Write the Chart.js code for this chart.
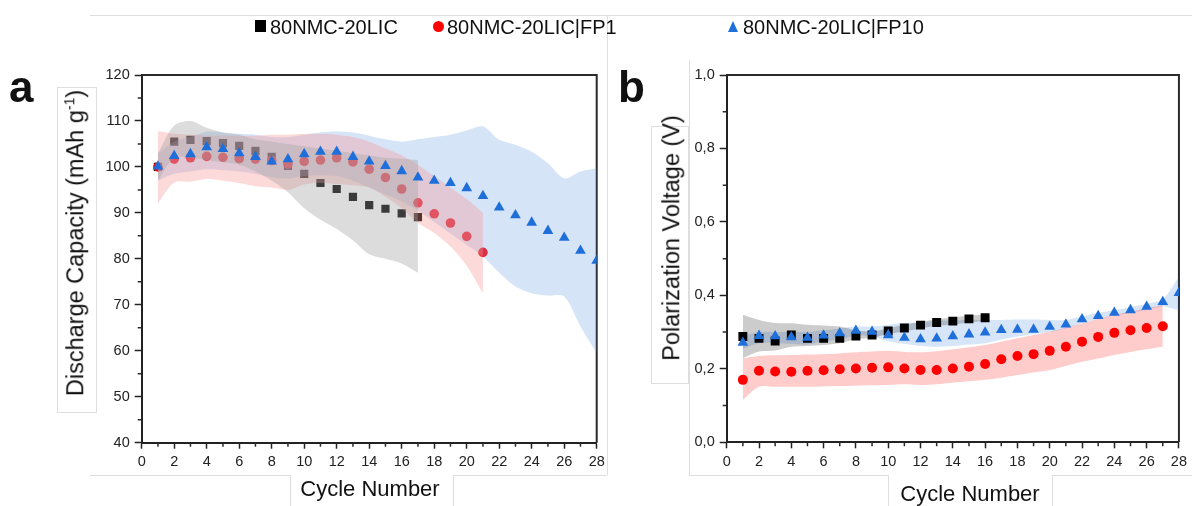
<!DOCTYPE html>
<html>
<head>
<meta charset="utf-8">
<script src="https://cdn.jsdelivr.net/npm/chart.js@4.4.0/dist/chart.umd.min.js"></script>
<style>
  body { margin: 0; background: #fff; width: 1192px; height: 506px; position: relative; overflow: hidden;
         font-family: Arial, "Liberation Sans", sans-serif; color: #111; }
  .abs { position: absolute; white-space: nowrap; }
  .panel { font-weight: bold; font-size: 44px; line-height: 1; }
  .legtxt { font-size: 20px; line-height: 1; }
  .ytitle { font-size: 23.5px; line-height: 1; transform: translate(-50%, -50%) rotate(-90deg); }
  .xtitle { font-size: 22px; line-height: 1; transform: translate(-50%, -50%); }
  .ytitle sup { font-size: 14px; vertical-align: 9px; line-height: 0; }
  .faint { position: absolute; background: #dedede; }
  .box { position: absolute; border: 1px solid #dedede; }
  canvas { position: absolute; top: 0; }
</style>
</head>
<body>
<!-- faint frame lines left over from the original figure -->
<div class="faint" style="left:90px;top:15px;width:1102px;height:1px"></div>
<div class="faint" style="left:607px;top:15px;width:1px;height:460px"></div>
<div class="faint" style="left:90px;top:475px;width:200px;height:1px"></div>
<div class="faint" style="left:290px;top:475px;width:1px;height:31px"></div>
<div class="faint" style="left:453px;top:475px;width:154px;height:1px"></div>
<div class="faint" style="left:453px;top:475px;width:1px;height:31px"></div>
<div class="faint" style="left:689px;top:60px;width:1px;height:415px"></div>
<div class="faint" style="left:689px;top:475px;width:199px;height:1px"></div>
<div class="faint" style="left:888px;top:475px;width:1px;height:31px"></div>
<div class="faint" style="left:1052px;top:475px;width:140px;height:1px"></div>
<div class="faint" style="left:1052px;top:475px;width:1px;height:31px"></div>
<div class="box" style="left:57px;top:87px;width:38px;height:324px"></div>
<div class="box" style="left:651px;top:126px;width:36px;height:256px"></div>

<canvas id="chartA" width="612" height="506" style="left:0"></canvas>
<canvas id="chartB" width="580" height="506" style="left:612px"></canvas>

<!-- leyenda -->
<div class="abs" style="left:255px;top:20px;width:11px;height:12px;background:#000"></div>
<div class="abs legtxt" style="left:270px;top:17px">80NMC-20LIC</div>
<div class="abs" style="left:433px;top:21px;width:11px;height:11px;border-radius:50%;background:#ff0000"></div>
<div class="abs legtxt" style="left:447px;top:17px">80NMC-20LIC|FP1</div>
<div class="abs" style="left:728px;top:21px;width:0;height:0;border-left:5.5px solid transparent;border-right:5.5px solid transparent;border-bottom:11px solid #1f6fdb"></div>
<div class="abs legtxt" style="left:743px;top:17px">80NMC-20LIC|FP10</div>

<div class="abs panel" style="left:9px;top:65px">a</div>
<div class="abs panel" style="left:618px;top:65px">b</div>
<div class="abs ytitle" style="left:76px;top:243px">Discharge Capacity (mAh g<sup>-1</sup>)</div>
<div class="abs ytitle" style="left:672px;top:238px">Polarization Voltage (V)</div>
<div class="abs xtitle" style="left:370px;top:489px">Cycle Number</div>
<div class="abs xtitle" style="left:970px;top:494px">Cycle Number</div>

<script>
// Ciclos
const cycles = [1, 2, 3, 4, 5, 6, 7, 8, 9, 10, 11, 12, 13, 14, 15, 16, 17, 18, 19, 20, 21, 22, 23, 24, 25, 26, 27, 28];

// Panel a: capacidad de descarga (mAh g-1)
const capLic = [100, 105.5, 105.9, 105.6, 105.2, 104.6, 103.5, 102.2, 100.2, 98.5, 96.5, 95.2, 93.5, 91.7, 90.9, 89.9, 89.1];
const capLicHi = [103, 109, 110, 108.5, 107.5, 107, 106, 105.5, 105, 104.5, 104, 103.5, 103, 102.5, 102, 101.8, 101.5];
const capLicLo = [97, 102, 102, 101.5, 101, 100.5, 99, 97, 94.5, 91, 88.5, 86.5, 84, 81, 80, 79, 77];

const capFp1 = [100, 101.7, 102.0, 102.3, 102.1, 101.8, 101.7, 101.4, 100.6, 101.2, 101.5, 102.0, 101.1, 99.5, 97.7, 95.2, 92.2, 89.8, 87.8, 84.9, 81.4];
const capFp1Hi = [107.8, 107.2, 107, 106.8, 106.8, 106.8, 106.8, 107, 107, 107.2, 107.2, 107, 106.5, 105.5, 104, 102.5, 100.5, 98, 95.5, 93, 90];
const capFp1Lo = [92.1, 96.6, 96.8, 97.4, 97, 96.5, 95.8, 95.5, 95, 96.2, 96.5, 96.3, 96, 95.5, 93.5, 91, 87.8, 85.6, 82.7, 78.5, 72.5];

const capFp10 = [100.1, 102.4, 102.8, 104.3, 103.9, 103.0, 102.2, 101.2, 101.7, 102.8, 103.3, 103.3, 102.2, 101.2, 100.2, 99.1, 97.7, 97.0, 96.5, 95.4, 93.7, 91.2, 89.5, 87.9, 86.1, 84.6, 81.8, 79.6];
const capFp10Hi = [103, 105.5, 106.5, 107.7, 107.5, 107.2, 107, 106.5, 106.5, 107, 107.5, 107.7, 107.5, 106.8, 106, 105.5, 106, 106.5, 107, 107.9, 108.8, 105.9, 104.8, 103.3, 100.8, 97.5, 99, 99.7];
const capFp10Lo = [97, 98.5, 99, 99.5, 99.3, 99, 98.5, 97.8, 97.5, 98, 98.2, 98, 97, 95.5, 94, 92.5, 90.5, 88, 85.5, 83, 80.5, 77, 74, 72.5, 72, 71.8, 65.3, 59.5];

// Panel b: voltaje de polarización (V)
const polLic = [0.288, 0.283, 0.276, 0.292, 0.283, 0.283, 0.283, 0.289, 0.292, 0.303, 0.311, 0.319, 0.326, 0.330, 0.336, 0.339];
const polLicHi = [0.347, 0.333, 0.325, 0.324, 0.320, 0.318, 0.315, 0.305, 0.302, 0.310, 0.320, 0.328, 0.335, 0.340, 0.345, 0.348];
const polLicLo = [0.229, 0.247, 0.250, 0.260, 0.262, 0.265, 0.270, 0.280, 0.285, 0.295, 0.302, 0.310, 0.317, 0.320, 0.326, 0.330];

const polFp1 = [0.170, 0.195, 0.193, 0.192, 0.195, 0.196, 0.199, 0.201, 0.203, 0.204, 0.201, 0.197, 0.197, 0.201, 0.206, 0.213, 0.226, 0.235, 0.240, 0.249, 0.260, 0.274, 0.287, 0.298, 0.305, 0.311, 0.316];
const polFp1Hi = [0.229, 0.235, 0.237, 0.238, 0.239, 0.240, 0.242, 0.245, 0.247, 0.249, 0.246, 0.245, 0.248, 0.253, 0.259, 0.265, 0.274, 0.283, 0.292, 0.301, 0.312, 0.324, 0.336, 0.347, 0.356, 0.365, 0.374];
const polFp1Lo = [0.115, 0.151, 0.151, 0.151, 0.151, 0.152, 0.153, 0.154, 0.155, 0.156, 0.158, 0.156, 0.158, 0.162, 0.166, 0.170, 0.176, 0.183, 0.190, 0.197, 0.208, 0.219, 0.228, 0.238, 0.246, 0.253, 0.260];

const polFp10 = [0.271, 0.290, 0.289, 0.286, 0.285, 0.291, 0.297, 0.304, 0.301, 0.292, 0.285, 0.281, 0.283, 0.289, 0.294, 0.299, 0.306, 0.307, 0.307, 0.315, 0.321, 0.335, 0.344, 0.353, 0.360, 0.369, 0.382, 0.407];
const polFp10Hi = [0.290, 0.300, 0.300, 0.300, 0.300, 0.305, 0.310, 0.315, 0.315, 0.320, 0.325, 0.327, 0.330, 0.332, 0.333, 0.333, 0.333, 0.334, 0.334, 0.333, 0.333, 0.343, 0.352, 0.360, 0.368, 0.377, 0.390, 0.451];
const polFp10Lo = [0.255, 0.270, 0.270, 0.268, 0.266, 0.275, 0.280, 0.290, 0.288, 0.275, 0.268, 0.262, 0.260, 0.262, 0.266, 0.270, 0.280, 0.288, 0.295, 0.300, 0.310, 0.325, 0.335, 0.345, 0.352, 0.360, 0.370, 0.360];

// Ticks
const xTicks = [0, 2, 4, 6, 8, 10, 12, 14, 16, 18, 20, 22, 24, 26, 28];
const xMinor = [1, 3, 5, 7, 9, 11, 13, 15, 17, 19, 21, 23, 25, 27];
const yTicksA = [40, 50, 60, 70, 80, 90, 100, 110, 120];
const yMinorA = [45, 55, 65, 75, 85, 95, 105, 115];
const yTicksB = [0, 0.2, 0.4, 0.6, 0.8, 1.0];
const yLabelsB = ['0,0', '0,2', '0,4', '0,6', '0,8', '1,0'];
const yMinorB = [0.1, 0.3, 0.5, 0.7, 0.9];

const FONT = 'Arial, "Liberation Sans", sans-serif';
const BLACK = '#000000';
const RED = '#ff0000';
const BLUE = '#1f6fdb';

function pts(vals) {
    return vals.map((v, i) => ({ x: cycles[i], y: v }));
}

// Banda de error: la curva superior se rellena hasta la inferior (+1)
function band(hi, lo, color, order) {
    return [
        { type: 'line', data: pts(hi), borderColor: 'transparent', borderWidth: 0, pointRadius: 0,
          backgroundColor: color, fill: '+1', tension: 0.3, order: order },
        { type: 'line', data: pts(lo), borderColor: 'transparent', borderWidth: 0, pointRadius: 0,
          fill: false, tension: 0.3, order: order }
    ];
}

function marks(vals, style, radius, color, order) {
    return { data: pts(vals), pointStyle: style, pointRadius: radius, pointHoverRadius: radius,
             backgroundColor: color, pointBorderWidth: 0, borderWidth: 0, showLine: false, order: order };
}

// Marco superior/derecho y ticks menores
const framePlugin = {
    id: 'frame',
    beforeDatasetsDraw(chart, args, opts) {
        const { ctx, chartArea: a } = chart;
        const xs = chart.scales.x, ys = chart.scales.y;
        ctx.save();
        ctx.strokeStyle = '#2a2a2a';
        ctx.lineWidth = 2;
        ctx.beginPath();
        ctx.moveTo(a.left, a.top);
        ctx.lineTo(a.right, a.top);
        ctx.lineTo(a.right, a.bottom);
        ctx.stroke();
        ctx.lineWidth = 1.5;
        ctx.beginPath();
        opts.xMinor.forEach(v => {
            const px = xs.getPixelForValue(v);
            ctx.moveTo(px, a.bottom);
            ctx.lineTo(px, a.bottom + 4);
        });
        opts.yMinor.forEach(v => {
            const py = ys.getPixelForValue(v);
            ctx.moveTo(a.left, py);
            ctx.lineTo(a.left - 4, py);
        });
        ctx.stroke();
        ctx.restore();
    }
};

function makeOptions(cfg) {
    return {
        responsive: false,
        animation: false,
        devicePixelRatio: 1,
        layout: { padding: { left: 0, right: cfg.padRight, top: 75, bottom: 0 } },
        plugins: {
            legend: { display: false },
            tooltip: { enabled: false },
            frame: { xMinor: xMinor, yMinor: cfg.yMinor }
        },
        scales: {
            x: {
                type: 'linear', min: 0, max: 28,
                afterBuildTicks: s => { s.ticks = xTicks.map(v => ({ value: v })); },
                afterFit: s => { s.height = cfg.xHeight; },
                grid: { drawOnChartArea: false, tickLength: 6, tickColor: '#222', tickWidth: 1.5 },
                border: { color: '#222', width: 2 },
                ticks: { color: '#222', font: { size: 14.5, family: FONT }, padding: 5, maxRotation: 0, autoSkip: false }
            },
            y: {
                type: 'linear', min: cfg.yMin, max: cfg.yMax,
                afterBuildTicks: s => { s.ticks = cfg.yTicks.map(v => ({ value: v })); },
                afterFit: s => { s.width = cfg.yWidth; },
                grid: { drawOnChartArea: false, tickLength: 7, tickColor: '#222', tickWidth: 1.5 },
                border: { color: '#222', width: 2 },
                ticks: { color: '#222', font: { size: 14.5, family: FONT }, padding: 5, autoSkip: false,
                         callback: cfg.yLabel }
            }
        }
    };
}

// Panel a: las bandas tapan cuadrados y círculos, los triángulos quedan encima
new Chart(document.getElementById('chartA'), {
    type: 'scatter',
    data: {
        datasets: [
            marks(capFp10, 'triangle', 6.2, BLUE, 0),
            ...band(capLicHi, capLicLo, 'rgba(161,161,161,0.37)', 2),
            ...band(capFp1Hi, capFp1Lo, 'rgba(250,150,150,0.35)', 2),
            ...band(capFp10Hi, capFp10Lo, 'rgba(118,165,228,0.3)', 2),
            marks(capFp1, 'circle', 4.8, RED, 3),
            marks(capLic, 'rect', 5.8, BLACK, 4)
        ]
    },
    options: makeOptions({ padRight: 15.3, xHeight: 63.3, yWidth: 141.7, yMin: 40, yMax: 120,
                           yTicks: yTicksA, yMinor: yMinorA, yLabel: v => String(v) }),
    plugins: [framePlugin]
});

// Panel b
new Chart(document.getElementById('chartB'), {
    type: 'scatter',
    data: {
        datasets: [
            marks(polFp10, 'triangle', 6.2, BLUE, 0),
            marks(polFp1, 'circle', 5, RED, 1),
            marks(polLic, 'rect', 6.3, BLACK, 2),
            ...band(polLicHi, polLicLo, 'rgba(0,0,0,0.2)', 5),
            ...band(polFp1Hi, polFp1Lo, 'rgba(255,0,0,0.2)', 5),
            ...band(polFp10Hi, polFp10Lo, 'rgba(31,111,219,0.18)', 5)
        ]
    },
    options: makeOptions({ padRight: 9.3, xHeight: 63.7, yWidth: 114.7, yMin: 0, yMax: 1,
                           yTicks: yTicksB, yMinor: yMinorB,
                           yLabel: (v, i) => yLabelsB[i] }),
    plugins: [framePlugin]
});
</script>
</body>
</html>
